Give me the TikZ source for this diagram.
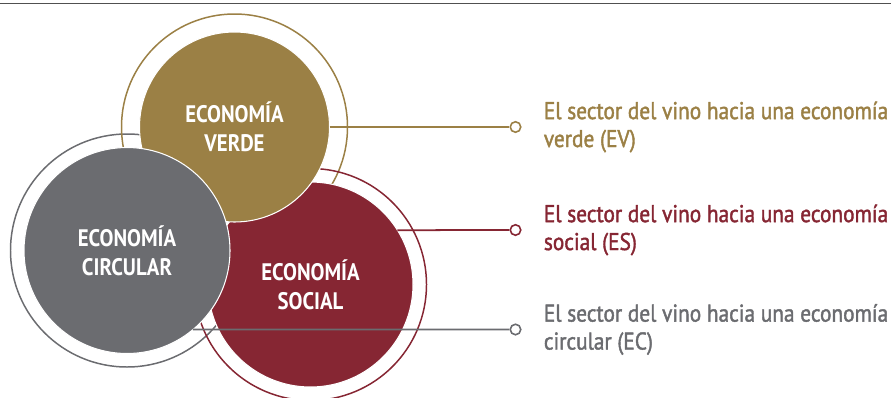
\documentclass[tikz,border=0pt]{standalone}
\usepackage{fontspec}
\usepackage{tikz}
\usetikzlibrary{positioning}
\newfontfamily\condfont[FakeStretch=0.87]{PT Sans}
\newfontfamily\labelfont[FakeStretch=0.88, FakeBold=1.6]{PT Sans}
\definecolor{eco_gold}{RGB}{155,128,69}
\definecolor{eco_red}{RGB}{134,38,51}
\definecolor{eco_gray}{RGB}{107,108,112}
\definecolor{rule_gray}{RGB}{80,80,80}

\begin{document}
\begin{tikzpicture}[font=\condfont,
      ring/.style={circle, draw, line width=0.85pt, fill=none, inner sep=0pt, outer sep=0pt},
      disc/.style={circle, draw=white, line width=0.6pt, inner sep=0pt, outer sep=0pt,
                   text=white, align=center, font=\condfont\bfseries\fontsize{13.6}{16.5}\selectfont},
      dot/.style={circle, draw, fill=white, line width=0.9pt, minimum size=0.21cm, inner sep=0pt},
      lbl/.style={anchor=west, align=left, inner sep=0pt, font=\labelfont\fontsize{13.8}{15.9}\selectfont},
      link/.style={line width=1pt}]
    \useasboundingbox (0,0) rectangle (17.82,-7.94);
    \draw[rule_gray, line width=0.85pt] (0,-0.07) -- (17.82,-0.07);
    % centres of the three economies
    \coordinate (cv) at (4.69,-2.54);
    \coordinate (cc) at (2.54,-5.01);
    \coordinate (cs) at (6.21,-5.69);
    % outer rings
    \node[ring, draw=eco_gray, minimum size=4.66cm] (rc) at (cc) {};
    \node[ring, draw=eco_gold, minimum size=4.52cm] (rv) at (cv) {};
    \node[ring, draw=eco_red, minimum size=4.64cm] (rs) at (cs) {};
    % filled discs
    \node[disc, fill=eco_red, minimum size=4.10cm] (social) at (cs) {ECONOMÍA\\SOCIAL};
    \node[disc, fill=eco_gold, minimum size=3.80cm] (verde) at (cv) {ECONOMÍA\\VERDE};
    \node[disc, fill=eco_gray, minimum size=4.12cm] (circular) at (cc) {ECONOMÍA\\CIRCULAR};
    % end markers and texts
    \node[dot, draw=eco_gold] (mv) at (10.31,-2.54) {};
    \node[dot, draw=eco_red] (ms) at (10.31,-4.60) {};
    \node[dot, draw=eco_gray] (mc) at (10.31,-6.59) {};
    \draw[link, eco_gold] (verde.east) -- (mv);
    \draw[link, eco_red] (social.32) -- (ms);
    \draw[link, eco_gray] (circular.-50) -- (mc);
    \node[lbl, text=eco_gold, right=0.44cm of mv] (tv)
      {El sector del vino hacia una economía\\verde (EV)};
    \node[lbl, text=eco_red, right=0.44cm of ms] (ts)
      {El sector del vino hacia una economía\\social (ES)};
    \node[lbl, text=eco_gray, right=0.44cm of mc] (tc)
      {El sector del vino hacia una economía\\circular (EC)};
  \end{tikzpicture}
\end{document}
